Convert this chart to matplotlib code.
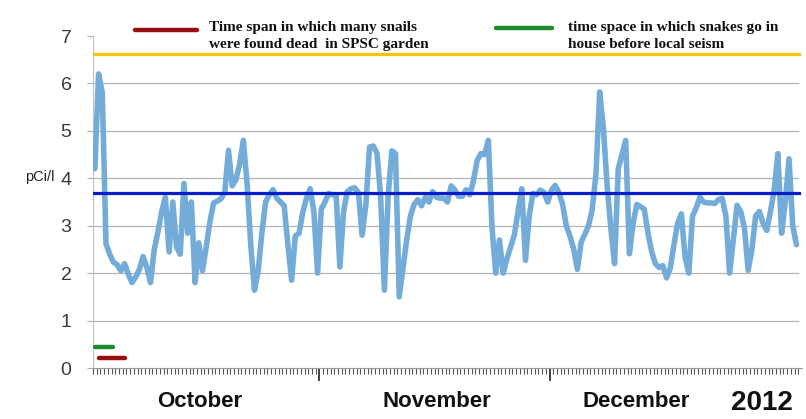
import matplotlib
matplotlib.use("Agg")
import matplotlib.pyplot as plt
import numpy as np

# ---- data ----
radon = [4.2, 6.2, 5.8, 2.62, 2.4, 2.23, 2.18, 2.05, 2.2, 1.98,
         1.8, 1.92, 2.08, 2.35, 2.12, 1.8, 2.5, 2.87, 3.3, 3.6,
         2.45, 3.5, 2.55, 2.4, 3.89, 2.84, 3.5, 1.8, 2.64, 2.05,
         2.55, 3.08, 3.48, 3.52, 3.57, 3.7, 4.59, 3.84, 3.97, 4.3,
         4.8, 3.9, 2.6, 1.64, 2.05, 2.85, 3.5, 3.65, 3.76, 3.58,
         3.5, 3.42, 2.6, 1.85, 2.78, 2.84, 3.28, 3.58, 3.78, 3.3,
         2.0, 3.35, 3.5, 3.68, 3.65, 3.65, 2.13, 3.3, 3.72, 3.78,
         3.8, 3.7, 2.8, 3.43, 4.66, 4.68, 4.53, 3.6, 1.64, 3.6,
         4.58, 4.52, 1.5, 2.1, 2.7, 3.2, 3.45, 3.55, 3.42, 3.6,
         3.5, 3.72, 3.6, 3.58, 3.58, 3.5, 3.84, 3.75, 3.62, 3.62,
         3.76, 3.65, 3.95, 4.38, 4.52, 4.5, 4.8, 2.95, 2.0, 2.7,
         2.0, 2.3, 2.55, 2.8, 3.3, 3.78, 2.27, 3.2, 3.68, 3.65,
         3.75, 3.7, 3.5, 3.75, 3.85, 3.7, 3.45, 3.0, 2.78, 2.5,
         2.08, 2.65, 2.82, 3.0, 3.35, 4.1, 5.82, 5.05, 3.85, 2.95,
         2.2, 4.2, 4.5, 4.8, 2.41, 3.05, 3.45, 3.4, 3.35, 2.85,
         2.45, 2.2, 2.12, 2.16, 1.9, 2.1, 2.6, 3.05, 3.25, 2.34,
         2.0, 3.2, 3.38, 3.6, 3.5, 3.48, 3.48, 3.47, 3.55, 3.58,
         3.2, 2.0, 2.7, 3.43, 3.3, 2.95, 2.06, 2.5, 3.2, 3.3,
         3.05, 2.9, 3.3, 3.75, 4.52, 2.84, 3.5, 4.41, 3.0, 2.6]
mean_level = 3.69
upper_level = 6.63
snails_idx = [1, 8]
snails_level = 0.22
snakes_idx = [0, 5]
snakes_level = 0.45
month_bounds = [60.5, 122.5]
month_labels = ["October", "November", "December"]
year_label = "2012"
yticks = [0, 1, 2, 3, 4, 5, 6, 7]
legend_texts = ["Time span in which many snails\nwere found dead  in SPSC garden",
                "time space in which snakes go in\nhouse before local seism"]

n = len(radon)
x = np.arange(n)

fig = plt.figure(figsize=(8.06, 4.19), dpi=100)
ax = fig.add_axes([93/806, 51/419, 709/806, 332/419])
ax.set_xlim(-0.5, n + 0.5)
ax.set_ylim(0, 7)

for v in yticks[1:-1]:
    ax.axhline(v, color="#b4b4b4", lw=0.9, xmax=0.995, zorder=1)

ax.plot(x, radon, color="#74acd9", lw=4.0, solid_joinstyle="round",
        solid_capstyle="round", zorder=3)
ax.plot([-0.5, n - 0.3], [mean_level, mean_level], color="#0a1ec8", lw=2.3, zorder=4)
ax.plot([-0.5, n - 0.3], [upper_level, upper_level], color="#f2c40f", lw=2.3, zorder=4)
ax.plot(snakes_idx, [snakes_level] * 2, color="#1b8a2e", lw=3.2,
        solid_capstyle="round", zorder=4)
ax.plot(snails_idx, [snails_level] * 2, color="#990f0f", lw=3.2,
        solid_capstyle="round", zorder=4)

for s in ["top", "right"]:
    ax.spines[s].set_visible(False)
ax.spines["left"].set_color("#c0c0c0")
ax.spines["bottom"].set_color("#9a9a9a")

ax.set_yticks(yticks)
ax.set_yticklabels([str(t) for t in yticks], fontsize=14, color="#3a3a3a",
                   family="Liberation Sans")
ax.tick_params(axis="y", length=4.5, color="#b0b0b0", pad=11)

ax.set_xticks(month_bounds)
ax.set_xticklabels([])
ax.set_xticks(np.arange(-0.5, n + 0.5, 1.0), minor=True)
ax.tick_params(axis="x", which="major", length=9, width=1.3, color="#333333")
ax.tick_params(axis="x", which="minor", length=4.5, width=0.8, color="#555555")

fig.text(40/806, 1 - 177/419, "pCi/l", fontsize=10.5, ha="center", va="center",
         color="#222222", family="Liberation Sans")

label_x = [200, 437, 636]
for lx, lab in zip(label_x, month_labels):
    fig.text(lx/806, 1 - 401/419, lab, fontsize=16, fontweight="bold",
             ha="center", va="center", color="#111111", family="Liberation Sans")
fig.text(762/806, 1 - 403/419, year_label, fontsize=20, fontweight="bold",
         ha="center", va="center", color="#111111", family="Liberation Sans")

# legend
fig.add_artist(plt.Line2D([135/806, 197/806], [1 - 30/419] * 2, color="#990f0f",
                          lw=3.2, solid_capstyle="round"))
fig.add_artist(plt.Line2D([496/806, 552/806], [1 - 28/419] * 2, color="#1b8a2e",
                          lw=3.2, solid_capstyle="round"))
fig.text(209/806, 1 - 36/419, legend_texts[0], fontsize=11, fontweight="bold",
         family="Liberation Serif", ha="left", va="center", linespacing=1.4,
         color="#111111")
fig.text(568/806, 1 - 36/419, legend_texts[1], fontsize=11, fontweight="bold",
         family="Liberation Serif", ha="left", va="center", linespacing=1.4,
         color="#111111")

fig.savefig("out.png", dpi=100)
